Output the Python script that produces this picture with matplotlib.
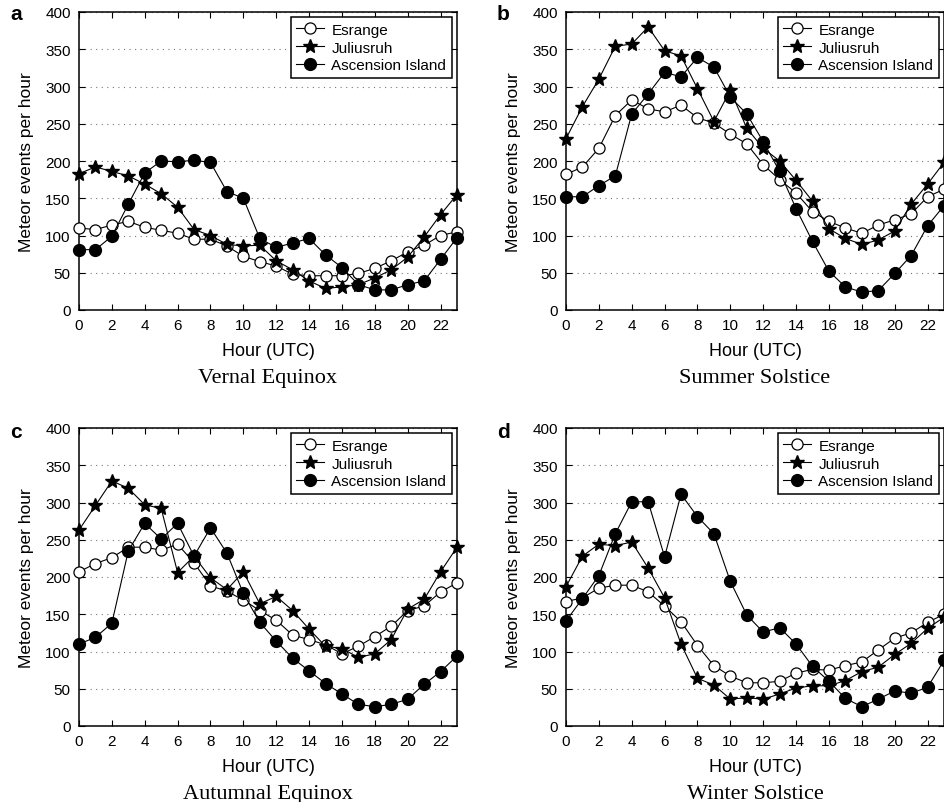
import matplotlib
matplotlib.use("Agg")
import matplotlib.pyplot as plt

# hours on the x axis
hours = list(range(24))

# a - vernal equinox
vernal_esrange = [110, 108, 114, 119, 111, 107, 103, 95, 95, 86, 72, 65, 59, 48, 46, 46, 46, 49, 56, 66, 78, 87, 100, 105]
vernal_juliusruh = [183, 192, 186, 180, 169, 156, 138, 108, 100, 88, 86, 87, 66, 54, 39, 29, 31, 34, 43, 54, 71, 98, 128, 155]
vernal_ascension = [81, 81, 99, 142, 184, 200, 199, 201, 198, 159, 150, 96, 84, 90, 96, 74, 57, 34, 27, 27, 34, 39, 68, 97]

# b - summer solstice
summer_esrange = [182, 192, 217, 261, 282, 270, 266, 275, 258, 251, 236, 223, 195, 175, 157, 132, 119, 110, 103, 114, 121, 129, 152, 162]
summer_juliusruh = [230, 273, 310, 354, 357, 380, 348, 341, 297, 253, 295, 244, 217, 200, 174, 146, 109, 96, 88, 94, 106, 142, 169, 198]
summer_ascension = [152, 152, 167, 180, 263, 290, 319, 313, 339, 326, 286, 263, 226, 186, 136, 92, 52, 31, 24, 26, 49, 73, 113, 140]

# c - autumnal equinox
autumn_esrange = [207, 218, 226, 240, 240, 236, 244, 219, 188, 181, 169, 155, 142, 122, 116, 109, 97, 107, 120, 134, 155, 161, 180, 192]
autumn_juliusruh = [263, 296, 329, 319, 297, 292, 206, 228, 199, 183, 207, 164, 174, 155, 130, 107, 104, 92, 97, 116, 157, 170, 207, 240]
autumn_ascension = [110, 119, 138, 235, 272, 251, 272, 228, 266, 232, 178, 139, 114, 91, 74, 57, 43, 29, 26, 29, 36, 56, 73, 94]

# d - winter solstice
winter_esrange = [167, 172, 185, 189, 189, 180, 161, 140, 108, 81, 67, 58, 58, 60, 71, 76, 75, 81, 86, 102, 118, 125, 139, 150]
winter_juliusruh = [187, 228, 244, 242, 247, 212, 172, 110, 64, 55, 36, 38, 36, 43, 51, 54, 54, 61, 73, 79, 96, 111, 131, 146]
winter_ascension = [141, 171, 202, 258, 301, 301, 227, 311, 281, 258, 194, 149, 126, 132, 110, 80, 60, 37, 26, 36, 47, 44, 52, 88]

station_names = ["Esrange", "Juliusruh", "Ascension Island"]
panel_letters = ["a", "b", "c", "d"]
season_titles = ["Vernal Equinox", "Summer Solstice", "Autumnal Equinox", "Winter Solstice"]
x_ticks = list(range(0, 23, 2))
y_ticks = list(range(0, 401, 50))

W, H = 944, 803
plt.rcParams["font.family"] = ["Liberation Sans", "DejaVu Sans"]

fig = plt.figure(figsize=(W / 100, H / 100), dpi=100)

# axes boxes in pixels: left, top, right, bottom
boxes = [(79, 13, 457, 311), (566, 13, 944, 311),
         (79, 429, 457, 727), (566, 429, 944, 727)]

all_data = [
    (vernal_esrange, vernal_juliusruh, vernal_ascension),
    (summer_esrange, summer_juliusruh, summer_ascension),
    (autumn_esrange, autumn_juliusruh, autumn_ascension),
    (winter_esrange, winter_juliusruh, winter_ascension),
]

for i in range(4):
    l, t, r, b = boxes[i]
    ax = fig.add_axes([l / W, 1 - b / H, (r - l) / W, (b - t) / H])
    esr, jul, asc = all_data[i]

    ax.plot(hours, esr, "-o", color="black", lw=0.8, ms=8, mfc="white",
            mec="black", mew=0.9, label=station_names[0], clip_on=False, zorder=3)
    ax.plot(hours, jul, "-*", color="black", lw=0.8, ms=10, mfc="black",
            mec="black", label=station_names[1], clip_on=False, zorder=4)
    ax.plot(hours, asc, "-o", color="black", lw=0.8, ms=8.5, mfc="black",
            mec="black", label=station_names[2], clip_on=False, zorder=5)

    ax.set_xlim(0, 23)
    ax.set_ylim(0, 400)
    ax.set_xticks(x_ticks)
    ax.set_yticks(y_ticks)
    ax.tick_params(direction="in", top=True, right=True, length=4, width=0.8,
                   labelsize=11, pad=6, colors="black")
    for s in ax.spines.values():
        s.set_linewidth(1.1)
    ax.yaxis.grid(True, linestyle=(0, (1, 4)), color="#777777", lw=0.8)
    ax.set_axisbelow(True)

    ax.set_xlabel("Hour (UTC)", fontsize=13, labelpad=7)
    ax.set_ylabel("Meteor events per hour", fontsize=12.5, labelpad=8)

    leg = ax.legend(loc="upper right", fontsize=11, frameon=True, fancybox=False,
                    edgecolor="black", framealpha=1, borderaxespad=0.35,
                    handlelength=1.8, handletextpad=0.5, labelspacing=0.25,
                    borderpad=0.35)
    leg.get_frame().set_linewidth(1.1)

    # panel letter and season title
    fig.text((l - 69) / W, 1 - 15 / H if i < 2 else 1 - 432 / H,
             panel_letters[i], fontsize=15, fontweight="bold", ha="left", va="center")
    fig.text((l + r) / 2 / W, 1 - (b + 72) / H, season_titles[i],
             family="Liberation Serif", fontsize=16, ha="center", va="baseline")

fig.savefig("out.png", dpi=100)
